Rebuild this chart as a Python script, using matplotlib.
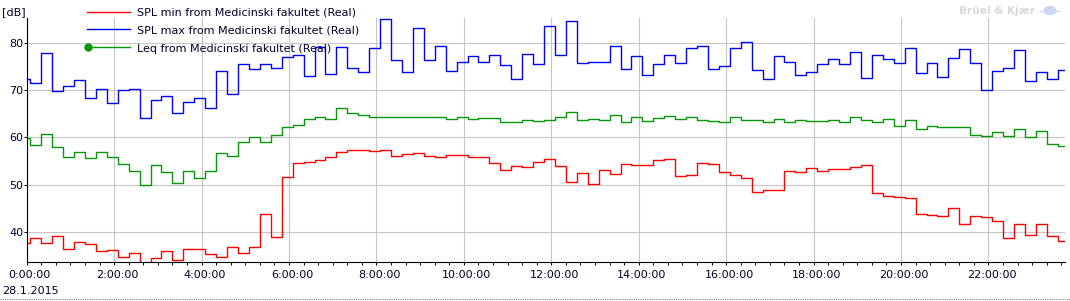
import numpy as np
import matplotlib
matplotlib.use('Agg')
import matplotlib.pyplot as plt
from matplotlib.lines import Line2D
from matplotlib.patches import Ellipse
from matplotlib.transforms import ScaledTranslation

plt.rcParams['font.family'] = 'DejaVu Sans'

# 15 minute intervals, first one starts 23:50 the day before (minutes from midnight)
start_min = -10
step_min = 15

spl_min = [37.6, 38.7, 37.6, 39.2, 36.4, 37.9, 37.4, 36.0, 36.2, 34.7,
           35.6, 32.5, 34.5, 36.0, 34.1, 36.4, 36.4, 35.4, 34.7, 36.8,
           35.6, 36.8, 43.8, 38.9, 51.6, 54.6, 54.8, 55.2, 55.9, 56.9,
           57.3, 57.3, 57.1, 57.3, 56.1, 56.5, 56.7, 56.1, 55.9, 56.3,
           56.3, 55.9, 55.9, 54.6, 53.1, 54.0, 53.7, 54.8, 55.4, 53.9,
           50.6, 52.5, 50.1, 53.1, 52.3, 54.4, 54.2, 54.2, 55.2, 55.4,
           51.8, 52.0, 54.6, 54.4, 52.7, 52.1, 51.4, 48.5, 48.9, 48.9,
           52.9, 52.7, 53.5, 52.9, 53.3, 53.3, 53.7, 54.2, 48.2, 47.6,
           47.4, 47.2, 43.8, 43.6, 43.4, 45.1, 41.7, 43.4, 43.2, 42.3,
           38.7, 41.7, 39.4, 41.7, 39.2, 38.1]

spl_max = [72.4, 71.4, 77.9, 69.8, 70.9, 72.2, 68.4, 70.3, 67.2, 70.0,
           70.3, 64.0, 67.9, 68.8, 65.1, 67.4, 68.4, 66.1, 74.1, 69.1,
           75.4, 74.5, 75.4, 74.7, 77.0, 77.5, 73.0, 79.1, 73.3, 79.1,
           74.7, 73.8, 78.9, 85.0, 76.4, 73.8, 83.2, 76.4, 79.4, 74.1,
           76.0, 77.1, 76.0, 77.3, 75.2, 72.4, 77.7, 75.6, 83.6, 77.5,
           84.5, 75.8, 76.0, 76.0, 79.2, 74.5, 77.1, 73.1, 75.4, 77.3,
           75.8, 78.9, 79.2, 74.5, 75.0, 78.9, 80.2, 74.3, 72.4, 77.1,
           76.0, 73.1, 73.8, 75.4, 76.6, 75.4, 78.1, 72.6, 77.5, 76.6,
           75.8, 78.9, 73.5, 75.8, 72.8, 76.8, 78.7, 75.8, 70.0, 74.1,
           74.7, 78.5, 72.0, 73.9, 72.4, 74.3]

leq = [59.8, 58.4, 60.8, 58.0, 55.9, 56.9, 55.6, 57.0, 55.9, 54.4,
       52.9, 49.9, 54.2, 52.7, 50.4, 52.9, 51.4, 52.9, 56.7, 56.1,
       59.1, 60.0, 59.1, 60.6, 62.2, 62.7, 63.9, 64.2, 63.9, 66.1,
       65.2, 64.7, 64.4, 64.4, 64.2, 64.2, 64.2, 64.4, 64.2, 63.9,
       64.4, 63.9, 64.0, 64.0, 63.3, 63.2, 63.6, 63.4, 63.6, 64.4,
       65.3, 63.6, 63.9, 63.6, 64.8, 63.3, 64.2, 63.4, 64.0, 64.6,
       63.9, 64.4, 63.6, 63.4, 63.2, 64.2, 63.6, 63.6, 63.2, 63.9,
       63.2, 63.6, 63.4, 63.4, 63.6, 63.2, 64.4, 63.6, 63.2, 63.9,
       62.5, 63.6, 61.8, 62.5, 62.1, 62.1, 62.1, 60.5, 60.2, 61.1,
       60.2, 61.8, 60.0, 61.3, 58.5, 58.1]

labels = ['SPL min from Medicinski fakultet (Real)',
          'SPL max from Medicinski fakultet (Real)',
          'Leq from Medicinski fakultet (Real)']
colors = ['#ff0000', '#0000ff', '#0a960a']
hour_ticks = list(range(0, 24, 2))
y_ticks = [40, 50, 60, 70, 80]
date_label = '28.1.2015'

W, H = 1070, 301
fig = plt.figure(figsize=(W / 100, H / 100), dpi=100)
ax = fig.add_axes([26.7 / W, 1 - 262.3 / H, (1065 - 26.7) / W, (262.3 - 18.3) / H])

t = start_min + step_min * np.arange(len(leq) + 1)
for vals, col in zip([spl_min, spl_max, leq], colors):
    ax.step(t, list(vals) + [vals[-1]], where='post', color=col, lw=1.0)

ax.set_xlim(0, 1425)
ax.set_ylim(33.6, 85.15)
ax.set_xticks([h * 60 for h in hour_ticks])
ax.set_xticklabels(['%d:00:00' % h for h in hour_ticks])
ax.set_xticks(np.arange(0, 1425, 20), minor=True)
ax.set_yticks(y_ticks)
ax.grid(True, which='major', color='#c6c6c6', lw=0.8)
ax.set_axisbelow(True)

for s in ['top', 'right']:
    ax.spines[s].set_visible(False)
for s in ['left', 'bottom']:
    ax.spines[s].set_linewidth(0.8)
    ax.spines[s].set_color('black')

txt_col = '#000028'
ax.tick_params(axis='x', which='both', direction='out', length=2.0, width=0.7,
               labelsize=8, pad=3.4, labelcolor=txt_col)
ax.tick_params(axis='y', which='major', direction='out', length=2.0, width=0.7,
               labelsize=8, pad=0.6, labelcolor=txt_col)
shift = ScaledTranslation(3.0 / 100, 0, fig.dpi_scale_trans)
for lab in ax.get_xticklabels():
    lab.set_transform(lab.get_transform() + shift)

# legend drawn by hand, overlaying the plot
def fx(px):
    return px / W

def fy(py):
    return 1 - py / H

rows = [11.7, 29.3, 47.3]
for i, (lab, col) in enumerate(zip(labels, colors)):
    fig.add_artist(Line2D([fx(87.3), fx(130)], [fy(rows[i]), fy(rows[i])],
                          color=col, lw=1.0))
    fig.text(fx(136.7), fy(rows[i] + 1.2), lab, fontsize=8, color=txt_col,
             va='center', ha='left')
fig.add_artist(Line2D([fx(88.3)], [fy(rows[2])], marker='o', ms=5,
                      color=colors[2], lw=0))

fig.text(fx(1.7), fy(14.7), '[dB]', fontsize=8, color=txt_col, va='baseline')
fig.text(fx(1.7), fy(294.3), date_label, fontsize=8, color=txt_col, va='baseline')

# faint logo
fig.text(fx(959), fy(10.5), 'Brüel & Kjær', fontsize=7.6, fontweight='bold',
         color='#d9d9d9', va='center', ha='left')
fig.add_artist(Ellipse((fx(1050), fy(10.5)), 12 / W, 8 / H, color='#c9d9f2',
                       transform=fig.transFigure))
fig.add_artist(Line2D([fx(1040), fx(1060)], [fy(10.5), fy(10.5)], color='#c9d9f2', lw=1))

# dotted separator at the bottom
fig.add_artist(Line2D([0, 1], [fy(298.5), fy(298.5)], color='#808080', lw=0.8,
                      ls=(0, (1, 1))))

fig.savefig('out.png', dpi=100)
